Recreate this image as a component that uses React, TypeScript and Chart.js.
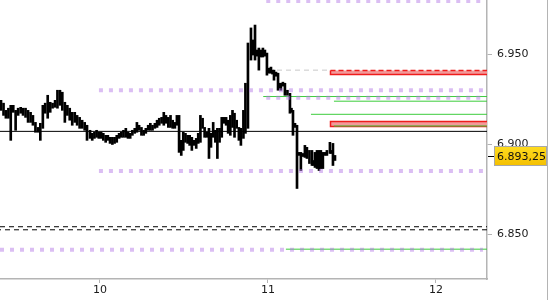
import React, { useEffect, useRef } from "react";
import { Chart, registerables } from "chart.js";

Chart.register(...registerables);

// Bar times (days of month) and high/low prices
const times = [
  9.411, 9.426, 9.44, 9.455, 9.469, 9.484, 9.498, 9.513, 9.528, 9.542,
  9.557, 9.572, 9.587, 9.601, 9.616, 9.631, 9.645, 9.66, 9.674, 9.689,
  9.704, 9.718, 9.733, 9.747, 9.762, 9.776, 9.791, 9.806, 9.82, 9.835,
  9.85, 9.864, 9.879, 9.894, 9.909, 9.923,
  9.941, 9.954, 9.967, 9.98, 9.993, 10.007, 10.02, 10.034, 10.047, 10.06,
  10.074, 10.087, 10.1, 10.114, 10.127, 10.14, 10.154, 10.167, 10.18, 10.193,
  10.207, 10.22, 10.233, 10.247, 10.26, 10.273, 10.287, 10.3, 10.313, 10.327,
  10.34, 10.353, 10.367, 10.38, 10.393, 10.407, 10.42, 10.433, 10.446,
  10.458, 10.471, 10.484, 10.496, 10.509, 10.522, 10.534, 10.547, 10.56, 10.573,
  10.585, 10.598, 10.611, 10.623, 10.636, 10.649, 10.661, 10.674, 10.687, 10.699,
  10.712, 10.725, 10.738, 10.751, 10.763, 10.776, 10.789, 10.801, 10.814, 10.827,
  10.839,
  10.854, 10.866, 10.881, 10.899, 10.911, 10.923, 10.935, 10.946, 10.958, 10.97,
  10.982, 10.994, 11.006, 11.018, 11.027, 11.036, 11.048, 11.06, 11.068, 11.077,
  11.089, 11.101, 11.116, 11.131, 11.14, 11.149, 11.161, 11.173, 11.185, 11.196,
  11.208, 11.22, 11.232, 11.247, 11.262, 11.271, 11.28, 11.292, 11.304, 11.315,
  11.327, 11.339, 11.351, 11.369, 11.378, 11.387, 11.399,
];

const highs = [
  6924.5, 6922.9, 6918.9, 6920.1, 6921.7, 6921.7, 6918.9, 6920.1, 6920.6, 6920.1,
  6920.1, 6918.9, 6917.8, 6916.1, 6912.2, 6909.4, 6911.7, 6921.7, 6922.9, 6927.3,
  6923.4, 6922.9, 6924.5, 6930.1, 6930.1, 6929.0, 6923.4, 6921.7, 6920.1, 6917.8,
  6917.8, 6916.1, 6915.0, 6913.4, 6912.2, 6910.6,
  6907.8, 6906.1, 6906.7, 6907.8, 6906.7, 6906.7, 6906.1, 6905.0, 6905.0, 6903.9,
  6903.9, 6903.9, 6905.0, 6906.1, 6906.7, 6907.8, 6908.9, 6906.7, 6906.1, 6907.8,
  6908.9, 6912.2, 6910.6, 6909.4, 6907.8, 6908.9, 6910.6, 6911.7, 6910.6, 6911.7,
  6913.4, 6914.5, 6915.0, 6917.8, 6916.1, 6915.0, 6916.1, 6913.4, 6912.2,
  6916.1, 6916.1, 6902.2, 6906.7, 6906.1, 6905.0, 6905.0, 6903.9, 6902.2, 6903.3,
  6906.1, 6916.1, 6914.5, 6909.4, 6906.7, 6908.9, 6906.1, 6912.2, 6907.8, 6908.9,
  6908.9, 6915.0, 6915.0, 6915.0, 6913.4, 6916.1, 6918.9, 6917.3, 6913.4, 6909.4,
  6908.9,
  6918.9, 6934.0, 6956.4, 6964.8, 6958.1, 6966.4, 6952.5, 6953.6, 6952.5, 6953.6,
  6952.5, 6950.8, 6942.4, 6943.0, 6941.3, 6941.3, 6940.2, 6939.6, 6934.0, 6934.0,
  6934.6, 6934.0, 6930.1, 6928.4, 6920.1, 6918.9, 6911.7, 6910.6, 6895.5, 6895.5,
  6894.9, 6899.4, 6898.3, 6896.6, 6896.6, 6891.0, 6895.5, 6896.6, 6896.6, 6896.6,
  6895.5, 6895.5, 6896.6, 6901.1, 6896.6, 6900.5, 6893.8,
];

const lows = [
  6918.9, 6916.1, 6914.5, 6914.5, 6902.2, 6917.8, 6907.8, 6916.1, 6917.3, 6916.1,
  6915.0, 6912.2, 6912.2, 6910.6, 6906.7, 6906.7, 6902.2, 6908.9, 6917.3, 6914.5,
  6917.8, 6920.1, 6920.6, 6920.1, 6921.7, 6918.9, 6912.2, 6916.1, 6913.4, 6910.6,
  6912.2, 6910.6, 6908.9, 6908.9, 6907.8, 6902.2,
  6903.3, 6902.2, 6903.3, 6903.9, 6903.3, 6903.3, 6902.2, 6901.1, 6902.2, 6900.5,
  6899.9, 6900.5, 6901.1, 6903.3, 6903.9, 6903.9, 6903.9, 6903.3, 6903.3, 6905.0,
  6906.1, 6906.7, 6907.8, 6905.0, 6905.0, 6906.1, 6907.8, 6907.8, 6907.8, 6908.9,
  6909.4, 6910.6, 6911.7, 6910.6, 6911.7, 6909.4, 6909.4, 6908.9, 6908.9,
  6910.6, 6895.5, 6893.8, 6896.6, 6901.1, 6900.5, 6899.4, 6896.6, 6899.4, 6897.7,
  6900.5, 6901.1, 6908.9, 6903.9, 6903.9, 6892.1, 6898.3, 6903.9, 6901.1, 6892.1,
  6901.1, 6903.9, 6911.7, 6910.6, 6906.1, 6905.0, 6909.4, 6903.9, 6908.9, 6902.2,
  6899.4,
  6903.3, 6906.1, 6908.9, 6946.9, 6949.7, 6946.9, 6949.1, 6941.3, 6948.6, 6948.6,
  6949.1, 6938.5, 6939.6, 6939.6, 6939.1, 6935.7, 6937.9, 6930.1, 6931.2, 6930.1,
  6932.4, 6927.3, 6927.3, 6917.3, 6917.8, 6905.0, 6909.4, 6875.4, 6893.8, 6885.4,
  6893.2, 6892.7, 6892.1, 6889.3, 6888.2, 6888.2, 6887.1, 6886.5, 6885.4, 6886.5,
  6886.5, 6893.8, 6893.8, 6894.9, 6894.9, 6888.2, 6891.0,
];

const lastPrice = 6893.25;

// x-axis
const xMin = 9.405;
const xMax = 12.304;
const xTickDays = [10, 11, 12];
// y-axis
const yMin = 6825;
const yMax = 6980.35;
const yTickValues = [6850, 6900, 6950];

// Horizontal levels
const purpleLevels = [6979.8, 6930.1, 6925.9, 6885.1, 6841.3];
const purpleStarts = [10.99, 9.994, 10.99, 9.994, 9.405];
const purpleEnd = 12.28;

const greenLevels = [6926.6, 6924.0, 6916.7, 6910.2, 6841.6];
const greenStarts = [10.972, 11.393, 11.256, 11.393, 11.107];

const blackSolidLevel = 6907.2;
const blackDashedLevels = [6854.1, 6852.4];

const grayDashedLevel = 6941.3;
const grayDashedStart = 11.054;
const grayDashedEnd = 11.369;

const zoneLows = [6939.1, 6910.1];
const zoneHighs = [6941.3, 6912.8];
const zoneStarts = [11.369, 11.369];

function fmtThousands(v: number, decimals = 0): string {
  const neg = v < 0;
  const abs = Math.abs(v);
  const fixed = abs.toFixed(decimals);
  const [intPart, decPart] = fixed.split(".");
  let out = "";
  for (let i = 0; i < intPart.length; i++) {
    const fromEnd = intPart.length - i;
    out += intPart[i];
    if (fromEnd > 1 && (fromEnd - 1) % 3 === 0) out += ".";
  }
  if (decPart) out += "," + decPart;
  return (neg ? "-" : "") + out;
}

const FONT = "DejaVu Sans";

export default function App() {
  const ref = useRef<HTMLCanvasElement | null>(null);

  useEffect(() => {
    const canvas = ref.current;
    if (!canvas) return;

    const hline = (
      y: number,
      x0: number,
      x1: number,
      color: string,
      width: number,
      dash: number[] = [],
      order = 2,
      dashOffset = 0
    ) => ({
      type: "line" as const,
      data: [
        { x: x0, y },
        { x: x1, y },
      ],
      borderColor: color,
      borderWidth: width,
      borderDash: dash,
      borderDashOffset: dashOffset,
      borderCapStyle: "butt" as const,
      pointRadius: 0,
      pointHoverRadius: 0,
      fill: false,
      tension: 0,
      order,
    });

    const datasets: any[] = [];

    // price bars
    datasets.push({
      type: "bar",
      data: times.map((t, i) => ({ x: t, y: [lows[i], highs[i]] })),
      backgroundColor: "#000000",
      borderWidth: 0,
      barThickness: 2,
      grouped: false,
      order: 1,
    });

    purpleLevels.forEach((lv, i) => {
      datasets.push(hline(lv, purpleStarts[i], purpleEnd, "rgba(180,120,230,0.48)", 4, [4, 6], 0));
    });
    greenLevels.forEach((lv, i) => {
      datasets.push(hline(lv, greenStarts[i], xMax, "#3ccc3c", 1, [], 2));
    });
    datasets.push(hline(blackSolidLevel, xMin, xMax, "#000000", 1, [], 2));
    datasets.push(hline(blackDashedLevels[0], xMin, xMax, "#000000", 1, [5, 4], 2, 0));
    datasets.push(hline(blackDashedLevels[1], xMin, xMax, "#000000", 1, [5, 4], 2, 4));
    datasets.push(hline(grayDashedLevel, grayDashedStart, grayDashedEnd, "#c8c8c8", 1, [5, 4], 2));

    const overlay = {
      id: "overlay",
      beforeDatasetsDraw(chart: any) {
        const { ctx, scales } = chart;
        const xs = scales.x;
        const ys = scales.y;
        ctx.save();
        zoneLows.forEach((lo, i) => {
          const x0 = Math.round(xs.getPixelForValue(zoneStarts[i])) + 0.5;
          const x1 = xs.getPixelForValue(xMax);
          const yTop = Math.round(ys.getPixelForValue(zoneHighs[i])) + 0.5;
          const yBot = Math.round(ys.getPixelForValue(lo)) + 0.5;
          ctx.fillStyle = "#f29a9a";
          ctx.fillRect(x0, yTop, x1 - x0, yBot - yTop);
          ctx.strokeStyle = "#ee1c1c";
          ctx.lineWidth = 1.5;
          ctx.beginPath();
          ctx.moveTo(x1, yBot);
          ctx.lineTo(x0, yBot);
          ctx.lineTo(x0, yTop);
          if (i !== 0) ctx.lineTo(x1, yTop);
          ctx.stroke();
          if (i === 0) {
            ctx.setLineDash([5, 3]);
            ctx.beginPath();
            ctx.moveTo(x0, yTop);
            ctx.lineTo(x1, yTop);
            ctx.stroke();
            ctx.setLineDash([]);
          }
        });
        ctx.restore();
      },
      afterDraw(chart: any) {
        const { ctx, scales, chartArea } = chart;
        const ys = scales.y;
        const py = Math.round(ys.getPixelForValue(lastPrice));
        ctx.save();
        // price tick
        ctx.strokeStyle = "#000";
        ctx.lineWidth = 1;
        ctx.beginPath();
        ctx.moveTo(chartArea.right + 1, py + 0.5);
        ctx.lineTo(chartArea.right + 7, py + 0.5);
        ctx.stroke();
        // yellow label
        const bx = chartArea.right + 7;
        const bw = 547 - bx;
        const by = py - 10;
        const bh = 20;
        const g = ctx.createLinearGradient(0, by, 0, by + bh);
        g.addColorStop(0, "#ffdc20");
        g.addColorStop(1, "#f4bf00");
        ctx.fillStyle = g;
        ctx.fillRect(bx, by, bw, bh);
        ctx.strokeStyle = "#a8a8a8";
        ctx.strokeRect(bx + 0.5, by + 0.5, bw - 1, bh - 1);
        ctx.fillStyle = "#111";
        ctx.font = `11px "${FONT}"`;
        ctx.textBaseline = "middle";
        ctx.textAlign = "left";
        ctx.fillText(fmtThousands(lastPrice, 2), bx + 3, py + 1);
        // outer frame line
        ctx.strokeStyle = "#b4b4b4";
        ctx.beginPath();
        ctx.moveTo(547.5, 0);
        ctx.lineTo(547.5, 300);
        ctx.stroke();
        ctx.restore();
      },
    };

    const chart = new Chart(canvas, {
      type: "bar",
      data: { datasets },
      options: {
        animation: false,
        responsive: false,
        events: [],
        layout: { padding: 0, autoPadding: false },
        plugins: {
          legend: { display: false },
          tooltip: { enabled: false },
          title: { display: false },
        },
        scales: {
          x: {
            type: "linear",
            min: xMin,
            max: xMax,
            offset: false,
            afterBuildTicks: (s: any) => {
              s.ticks = xTickDays.map((v) => ({ value: v }));
            },
            afterFit: (s: any) => {
              s.height = 21;
              s.paddingLeft = 0;
              s.paddingRight = 0;
              s.paddingTop = 0;
              s.paddingBottom = 0;
            },
            ticks: {
              callback: (v: any) => String(v),
              font: { family: FONT, size: 11 },
              color: "#1a1a1a",
              padding: 1,
              maxRotation: 0,
              autoSkip: false,
            },
            grid: {
              drawOnChartArea: false,
              tickLength: 4,
              color: "#b4b4b4",
              offset: false,
            },
            border: { color: "#b4b4b4", width: 1.5 },
          },
          y: {
            type: "linear",
            position: "right",
            min: yMin,
            max: yMax,
            afterBuildTicks: (s: any) => {
              s.ticks = yTickValues.map((v) => ({ value: v }));
            },
            afterFit: (s: any) => {
              s.width = 63;
              s.paddingLeft = 0;
              s.paddingRight = 0;
              s.paddingTop = 0;
              s.paddingBottom = 0;
            },
            ticks: {
              callback: (v: any) => fmtThousands(Number(v)),
              font: { family: FONT, size: 11 },
              color: "#1a1a1a",
              padding: 5,
            },
            grid: {
              drawOnChartArea: false,
              tickLength: 5,
              color: "#b4b4b4",
            },
            border: { color: "#b4b4b4", width: 1.5 },
          },
        },
      } as any,
      plugins: [overlay],
    });

    return () => chart.destroy();
  }, []);

  return (
    <div style={{ position: "absolute", left: 0, top: 0, width: 550, height: 300, background: "#fff" }}>
      <canvas ref={ref} width={550} height={300} style={{ width: 550, height: 300, display: "block" }} />
    </div>
  );
}
